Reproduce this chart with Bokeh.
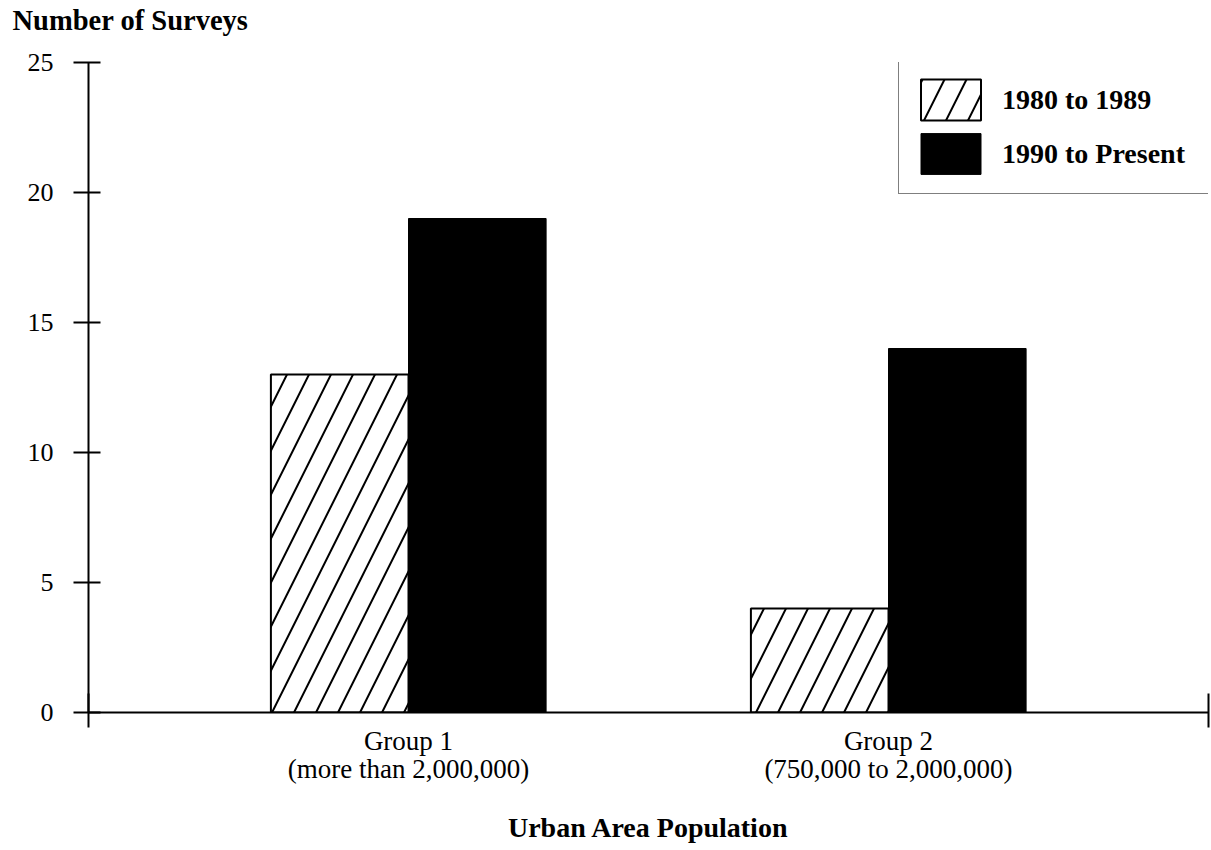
from bokeh.plotting import figure
from bokeh.models import Range1d, FixedTicker, Legend, LegendItem, ColumnDataSource, Title
from bokeh.embed import file_html
from bokeh.resources import INLINE
from bokeh.transform import dodge

# ---- data ----
group_labels = ["Group 1\n(more than 2,000,000)", "Group 2\n(750,000 to 2,000,000)"]
group_pos = [2, 5]
series_names = ["1980 to 1989", "1990 to Present"]
surveys_1980s = [13, 4]
surveys_1990s = [19, 14]
y_ticks = [0, 5, 10, 15, 20, 25]
x_end_ticks = [0, 7]
y_title = "Number of Surveys"
x_title = "Urban Area Population"

FONT = "Liberation Serif"

src = ColumnDataSource(dict(x=group_pos, a=surveys_1980s, b=surveys_1990s))

p = figure(width=1211, height=850,
           x_range=Range1d(0, 7), y_range=Range1d(0, 25),
           output_backend="svg", toolbar_location=None,
           min_border_left=88, min_border_right=3,
           min_border_top=62, min_border_bottom=138,
           background_fill_color="white", border_fill_color="white")

r1 = p.vbar(x=dodge('x', -0.43, range=p.x_range), top='a', width=0.86, source=src,
            fill_color="white", line_color="black", line_width=2,
            hatch_pattern="/", hatch_color="black", hatch_scale=44, hatch_weight=2)
r2 = p.vbar(x=dodge('x', 0.43, range=p.x_range), top='b', width=0.86, source=src,
            fill_color="black", line_color="black", line_width=1)

p.xgrid.visible = False
p.ygrid.visible = False
p.outline_line_color = None

# x axis
xa = p.xaxis[0]
xa.ticker = FixedTicker(ticks=group_pos, minor_ticks=x_end_ticks)
xa.major_label_overrides = {group_pos[i]: group_labels[i] for i in range(2)}
xa.major_tick_in = 0
xa.major_tick_out = 0
xa.minor_tick_in = 19
xa.minor_tick_out = 15
xa.minor_tick_line_color = "black"
xa.minor_tick_line_width = 2
xa.axis_line_width = 2
xa.axis_line_color = "black"
xa.major_label_text_font = FONT
xa.major_label_text_font_size = "27px"
xa.major_label_text_color = "black"
xa.major_label_text_line_height = 0.95
xa.major_label_standoff = -2
xa.axis_label = x_title
xa.axis_label_text_font = FONT
xa.axis_label_text_font_style = "bold"
xa.axis_label_text_font_size = "28px"
xa.axis_label_text_color = "black"
xa.axis_label_standoff = 25

# y axis
ya = p.yaxis[0]
ya.ticker = FixedTicker(ticks=y_ticks, minor_ticks=[])
ya.major_tick_in = 12
ya.major_tick_out = 15
ya.major_tick_line_width = 2
ya.major_tick_line_color = "black"
ya.axis_line_width = 2
ya.axis_line_color = "black"
ya.major_label_text_font = FONT
ya.major_label_text_font_size = "26px"
ya.major_label_text_color = "black"
ya.major_label_standoff = 20

# title (y-axis caption) at the top-left; a blank spacer title sits between it and the frame
p.title.text = y_title
p.title.align = "left"
p.title.vertical_align = "middle"
p.title.offset = -76
p.title.standoff = 4
p.title.text_font = FONT
p.title.text_font_style = "bold"
p.title.text_font_size = "28.5px"
p.title.text_color = "black"
p.add_layout(Title(text=" ", text_font_size="12px", standoff=8), "above")

legend = Legend(items=[LegendItem(label=series_names[0], renderers=[r1]),
                       LegendItem(label=series_names[1], renderers=[r2])],
                location=(810, 518),
                label_text_font=FONT, label_text_font_style="bold",
                label_text_font_size="28px", label_text_color="black",
                glyph_width=75, glyph_height=51, label_standoff=14,
                label_width=230,
                spacing=3, padding=14,
                border_line_color="black", border_line_width=1.5,
                background_fill_color="white", background_fill_alpha=1.0)
p.add_layout(legend)

open("out.html", "w").write(file_html(p, INLINE))
